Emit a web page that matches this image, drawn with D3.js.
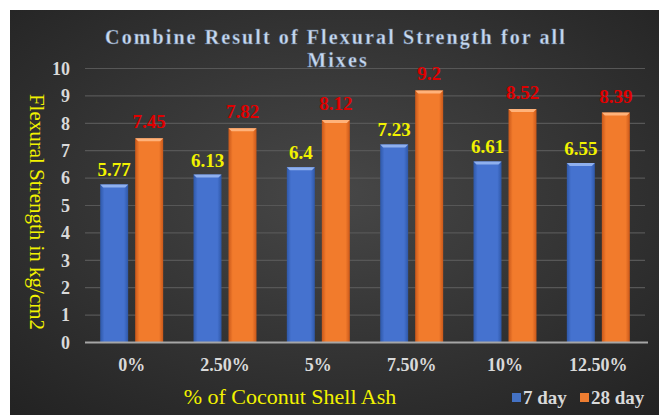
<!DOCTYPE html>
<html>
  <head>
    <meta charset="utf-8">
    <title>Combine Result of Flexural Strength for all Mixes</title>
    <script src="https://cdn.jsdelivr.net/npm/d3@7/dist/d3.min.js"></script>
    <style>
      body { margin: 0; background: #fff; }
      svg { display: block; font-family: "Liberation Serif", "Times New Roman", serif; }
    </style>
  </head>
  <body>
    <svg id="chart"></svg>
    <script>
// data
var categories = ["0%", "2.50%", "5%", "7.50%", "10%", "12.50%"];
var series = ["7 day", "28 day"];
var day7 = [5.77, 6.13, 6.4, 7.23, 6.61, 6.55];
var day28 = [7.45, 7.82, 8.12, 9.2, 8.52, 8.39];
var yTicks = [0, 1, 2, 3, 4, 5, 6, 7, 8, 9, 10];

var width = 666, height = 415;
var plot = { left: 85, right: 645, top: 68.5, bottom: 342.5 };

var svg = d3.select("#chart").attr("width", width).attr("height", height);
var defs = svg.append("defs");

// dark background with a soft centre glow
var bg = defs.append("radialGradient").attr("id", "bg")
    .attr("cx", "50%").attr("cy", "45%").attr("r", "75%");
bg.append("stop").attr("offset", "0%").attr("stop-color", "#474747");
bg.append("stop").attr("offset", "100%").attr("stop-color", "#222222");

svg.append("rect")
    .attr("x", 10).attr("y", 10)
    .attr("width", 649).attr("height", 405)
    .attr("fill", "url(#bg)");

// bar fills: slight horizontal shading
function barGrad(id, dark, mid) {
  var g = defs.append("linearGradient").attr("id", id)
      .attr("x1", "0%").attr("x2", "100%").attr("y1", "0%").attr("y2", "0%");
  g.append("stop").attr("offset", "0%").attr("stop-color", dark);
  g.append("stop").attr("offset", "15%").attr("stop-color", mid);
  g.append("stop").attr("offset", "85%").attr("stop-color", mid);
  g.append("stop").attr("offset", "100%").attr("stop-color", dark);
}
barGrad("blueFill", "#2f58a8", "#4572cf");
barGrad("orangeFill", "#c9581a", "#f27b2c");

var colors = { "7 day": "url(#blueFill)", "28 day": "url(#orangeFill)" };
var tops = { "7 day": "#8fb0ee", "28 day": "#ffb27a" };
var labelColors = { "7 day": "#f2f200", "28 day": "#e00000" };
var legendColors = { "7 day": "#4472c4", "28 day": "#ed7d31" };

var y = d3.scaleLinear().domain([0, 10]).range([plot.bottom, plot.top]);

var x0 = d3.scaleBand().domain(categories)
    .range([plot.left, plot.right])
    .paddingInner(0.325).paddingOuter(0.1625);

var x1 = d3.scaleBand().domain(series)
    .range([0, x0.bandwidth()])
    .paddingInner(0.2);

var rows = categories.map(function(c, i) {
  return { cat: c, values: [{ key: "7 day", v: day7[i] }, { key: "28 day", v: day28[i] }] };
});

// gridlines
svg.append("g")
  .selectAll("line")
  .data(yTicks.filter(function(d) { return d > 0; }))
  .enter().append("line")
    .attr("x1", plot.left).attr("x2", plot.right)
    .attr("y1", function(d) { return y(d); })
    .attr("y2", function(d) { return y(d); })
    .attr("stroke", "#575757")
    .attr("stroke-width", 1.2);

// y tick labels
svg.append("g")
  .selectAll("text")
  .data(yTicks)
  .enter().append("text")
    .attr("x", 70)
    .attr("y", function(d) { return y(d); })
    .attr("dy", "0.35em")
    .attr("text-anchor", "end")
    .attr("fill", "#d9d9d9")
    .attr("font-weight", "bold")
    .attr("font-size", 18)
    .text(function(d) { return d; });

// bars
var group = svg.append("g").selectAll("g")
  .data(rows)
  .enter().append("g")
    .attr("transform", function(d) { return "translate(" + x0(d.cat) + ",0)"; });

var bar = group.selectAll("g")
  .data(function(d) { return d.values; })
  .enter().append("g");

bar.append("rect")
    .attr("x", function(d) { return x1(d.key); })
    .attr("y", function(d) { return y(d.v); })
    .attr("width", x1.bandwidth())
    .attr("height", function(d) { return y(0) - y(d.v); })
    .attr("fill", function(d) { return colors[d.key]; });

// little bevel on top of each bar
bar.append("path")
    .attr("d", function(d) {
      var xl = x1(d.key), xr = xl + x1.bandwidth(), yt = y(d.v), b = 3;
      return "M" + xl + "," + yt + "L" + xr + "," + yt +
             "L" + (xr - b) + "," + (yt + b) + "L" + (xl + b) + "," + (yt + b) + "Z";
    })
    .attr("fill", function(d) { return tops[d.key]; });

// value labels
bar.append("text")
    .attr("x", function(d) { return x1(d.key) + x1.bandwidth() / 2; })
    .attr("y", function(d) { return y(d.v) - (d.key === "7 day" ? 8 : 10); })
    .attr("text-anchor", "middle")
    .attr("font-weight", "bold")
    .attr("font-size", 19)
    .attr("fill", function(d) { return labelColors[d.key]; })
    .text(function(d) { return d.v; });

// baseline
svg.append("line")
    .attr("x1", plot.left).attr("x2", plot.right + 3)
    .attr("y1", y(0)).attr("y2", y(0))
    .attr("stroke", "#a6a6a6")
    .attr("stroke-width", 2);

// x tick labels
svg.append("g")
  .selectAll("text")
  .data(categories)
  .enter().append("text")
    .attr("x", function(d) { return x0(d) + x0.bandwidth() / 2; })
    .attr("y", 371)
    .attr("text-anchor", "middle")
    .attr("fill", "#d9d9d9")
    .attr("font-weight", "bold")
    .attr("font-size", 18)
    .text(function(d) { return d; });

// title
var title = svg.append("text")
    .attr("text-anchor", "middle")
    .attr("fill", "#c6d9f1")
    .attr("stroke", "#5a6a80")
    .attr("stroke-width", 0.4)
    .attr("font-weight", "bold")
    .attr("font-size", 20)
    .attr("letter-spacing", 2.1);
title.append("tspan").attr("x", 336).attr("y", 44).text("Combine Result of Flexural Strength for all");
title.append("tspan").attr("x", 338).attr("y", 67).text("Mixes");

// axis titles
svg.append("text")
    .attr("transform", "translate(30,212) rotate(90)")
    .attr("text-anchor", "middle")
    .attr("fill", "#f2f200")
    .attr("font-size", 21)
    .text("Flexural Strength in kg/cm2");

svg.append("text")
    .attr("x", 290).attr("y", 404)
    .attr("text-anchor", "middle")
    .attr("fill", "#f2f200")
    .attr("font-size", 22)
    .text("% of Coconut Shell Ash");

// legend
var legendX = [512, 580];
var leg = svg.append("g").selectAll("g")
  .data(series)
  .enter().append("g")
    .attr("transform", function(d, i) { return "translate(" + legendX[i] + ",398)"; });

leg.append("rect")
    .attr("x", 0).attr("y", -5)
    .attr("width", 9).attr("height", 9)
    .attr("fill", function(d) { return legendColors[d]; });

leg.append("text")
    .attr("x", 11).attr("y", 6)
    .attr("fill", "#d9d9d9")
    .attr("font-weight", "bold")
    .attr("font-size", 19)
    .text(function(d) { return d; });
    </script>
  </body>
</html>
